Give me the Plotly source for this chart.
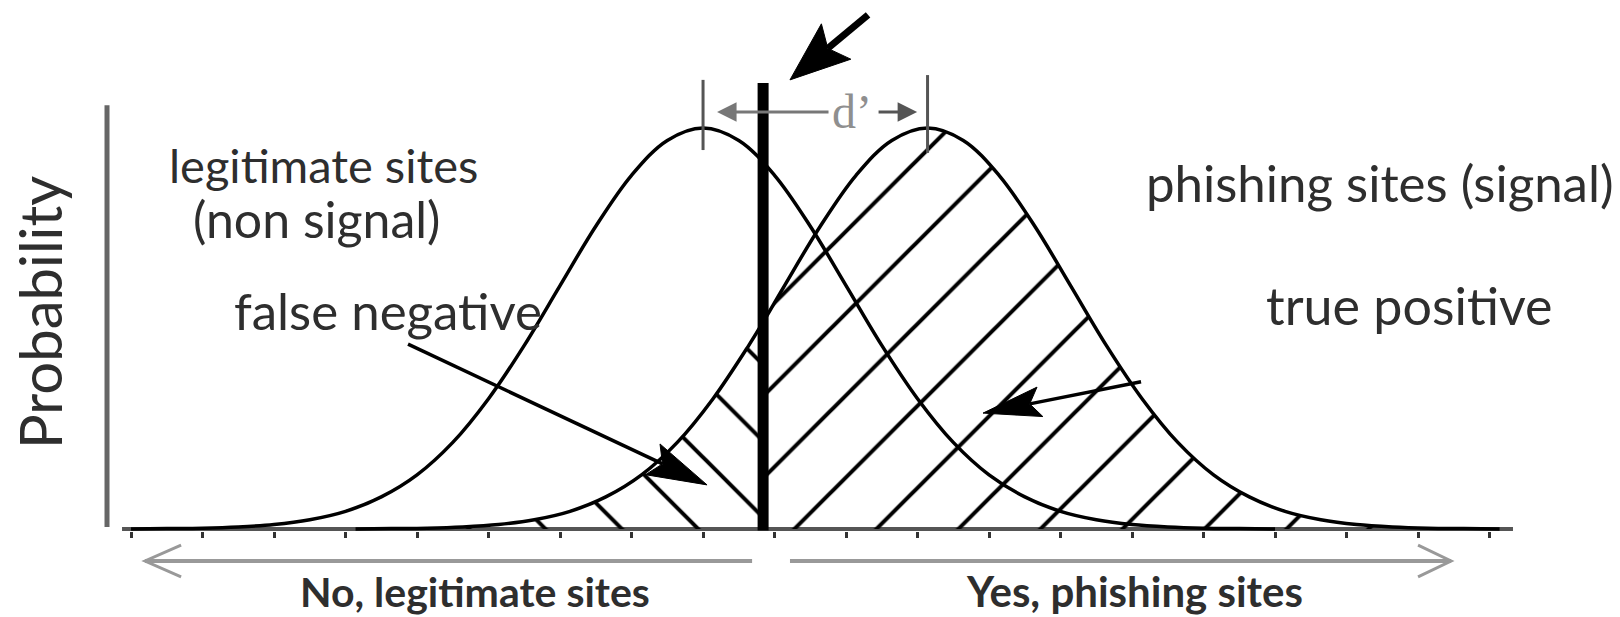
import math
import plotly.graph_objects as go

# ---------------- data ----------------
# relative probability (peak = 1) of the two distributions along the decision axis
noise_x = [-4.0, -3.75, -3.5, -3.25, -3.0, -2.75, -2.5, -2.25, -2.0, -1.75, -1.5, -1.25,
           -1.0, -0.75, -0.5, -0.25, 0.0, 0.25, 0.5, 0.75, 1.0, 1.25, 1.5, 1.75,
           2.0, 2.25, 2.5, 2.75, 3.0, 3.25, 3.5, 3.75, 4.0]
noise_y = [0.000, 0.001, 0.002, 0.005, 0.011, 0.023, 0.044, 0.080, 0.135, 0.216, 0.325, 0.458,
           0.607, 0.755, 0.882, 0.969, 1.000, 0.969, 0.882, 0.755, 0.607, 0.458, 0.325, 0.216,
           0.135, 0.080, 0.044, 0.023, 0.011, 0.005, 0.002, 0.001, 0.000]

signal_x = [-2.43, -2.18, -1.93, -1.68, -1.43, -1.18, -0.93, -0.68, -0.43, -0.18, 0.07, 0.32,
            0.42, 0.57, 0.82, 1.07, 1.32, 1.57, 1.82, 2.07, 2.32, 2.57, 2.82, 3.07,
            3.32, 3.57, 3.82, 4.07, 4.32, 4.57, 4.82, 5.07, 5.32, 5.57]
signal_y = [0.000, 0.001, 0.002, 0.005, 0.011, 0.023, 0.044, 0.080, 0.135, 0.216, 0.325, 0.458,
            0.516, 0.607, 0.755, 0.882, 0.969, 1.000, 0.969, 0.882, 0.755, 0.607, 0.458, 0.325,
            0.216, 0.135, 0.080, 0.044, 0.023, 0.011, 0.005, 0.002, 0.001, 0.000]

noise_mean = 0.0
signal_mean = 1.57
criterion = 0.42

labels = {
    "noise1": "legitimate sites",
    "noise2": "(non signal)",
    "signal": "phishing sites (signal)",
    "fn": "false negative",
    "tp": "true positive",
    "no": "No, legitimate sites",
    "yes": "Yes, phishing sites",
    "ylab": "Probability",
    "dprime": "d\u2019",
}

# ---------------- layout constants ----------------
W, H = 1620, 617
ML, MR, MT, MB = 93, 100, 0, 86
XR = [-4.266, 5.713]
YR = [-0.005, 1.3192]
PX_X = (W - ML - MR) / (XR[1] - XR[0])
PX_Y = (H - MT - MB) / (YR[1] - YR[0])

TEXT = "#2e2e2e"
FONT = "Lato"

fig = go.Figure()

# hatch regions under the signal curve
left_x = [x for x in signal_x if x <= criterion]
left_y = [y for x, y in zip(signal_x, signal_y) if x <= criterion]
right_x = [x for x in signal_x if x >= criterion]
right_y = [y for x, y in zip(signal_x, signal_y) if x >= criterion]

fig.add_trace(go.Scatter(
    x=left_x, y=left_y, mode="lines", line=dict(width=0, shape="spline"),
    fill="tozeroy", fillcolor="rgba(0,0,0,0)",
    fillpattern=dict(shape="\\", size=54, solidity=0.074, fgcolor="black", fgopacity=1),
    hoverinfo="skip", showlegend=False))
fig.add_trace(go.Scatter(
    x=right_x, y=right_y, mode="lines", line=dict(width=0, shape="spline"),
    fill="tozeroy", fillcolor="rgba(0,0,0,0)",
    fillpattern=dict(shape="/", size=58, solidity=0.069, fgcolor="black", fgopacity=1),
    hoverinfo="skip", showlegend=False))

# the two distributions
fig.add_trace(go.Scatter(x=noise_x, y=noise_y, mode="lines",
                         line=dict(color="black", width=3.5, shape="spline"),
                         hoverinfo="skip", showlegend=False))
fig.add_trace(go.Scatter(x=signal_x, y=signal_y, mode="lines",
                         line=dict(color="black", width=3.5, shape="spline"),
                         hoverinfo="skip", showlegend=False))

shapes = []
# baseline and vertical axis
shapes.append(dict(type="line", xref="x", yref="y", x0=-4.063, x1=5.664, y0=0, y1=0,
                   line=dict(color="#555555", width=4), layer="below"))
shapes.append(dict(type="line", xref="x", yref="y", x0=-4.168, x1=-4.168, y0=0.005, y1=1.057,
                   line=dict(color="#666666", width=5)))
# criterion
shapes.append(dict(type="line", xref="x", yref="y", x0=criterion, x1=criterion, y0=-0.004, y1=1.112,
                   line=dict(color="black", width=11)))
# peak markers for d'
shapes.append(dict(type="line", xref="x", yref="y", x0=noise_mean, x1=noise_mean, y0=0.945, y1=1.12,
                   line=dict(color="#555555", width=3)))
shapes.append(dict(type="line", xref="x", yref="y", x0=signal_mean, x1=signal_mean, y0=0.938, y1=1.132,
                   line=dict(color="#555555", width=3)))


def arrow(tip, tail, head_len, half_w, width, color="black"):
    tx, ty = tip[0] * PX_X, tip[1] * PX_Y
    sx, sy = tail[0] * PX_X, tail[1] * PX_Y
    dx, dy = sx - tx, sy - ty
    L = math.hypot(dx, dy)
    ux, uy = dx / L, dy / L
    nx, ny = -uy, ux
    bx, by = tx + ux * head_len, ty + uy * head_len
    cx, cy = tx + ux * head_len * 0.82, ty + uy * head_len * 0.82
    p1 = (bx + nx * half_w, by + ny * half_w)
    p2 = (bx - nx * half_w, by - ny * half_w)

    def d(p):
        return f"{p[0] / PX_X:.4f},{p[1] / PX_Y:.4f}"
    path = f"M {d((tx, ty))} L {d(p1)} L {d((cx, cy))} L {d(p2)} Z"
    out = [dict(type="line", xref="x", yref="y", x0=tail[0], y0=tail[1],
                x1=cx / PX_X, y1=cy / PX_Y, line=dict(color=color, width=width)),
           dict(type="path", xref="x", yref="y", path=path, fillcolor=color,
                line=dict(color=color, width=1))]
    return out


shapes += arrow((0.608, 1.12), (1.154, 1.282), 60, 23, 7)
shapes += arrow((0.028, 0.110), (-2.063, 0.461), 60, 17, 3.5)
shapes += arrow((1.958, 0.289), (3.063, 0.367), 58, 15, 3.5)

# bottom direction arrows (open chevrons)
GREY = "#999999"
yb = -0.0565
shapes.append(dict(type="line", xref="x", yref="paper", x0=-3.902, x1=0.343, y0=yb, y1=yb,
                   line=dict(color=GREY, width=4)))
shapes.append(dict(type="path", xref="x", yref="paper",
                   path=f"M -3.650,{yb + 0.030} L -3.902,{yb} L -3.650,{yb - 0.030}",
                   line=dict(color=GREY, width=3)))
shapes.append(dict(type="line", xref="x", yref="paper", x0=0.608, x1=5.231, y0=yb, y1=yb,
                   line=dict(color=GREY, width=4)))
shapes.append(dict(type="path", xref="x", yref="paper",
                   path=f"M 5.000,{yb + 0.030} L 5.231,{yb} L 5.000,{yb - 0.030}",
                   line=dict(color=GREY, width=3)))

annotations = []


def txt(key, x, y, size=46, xref="x", yref="y", color=TEXT, weight=None, angle=0, family=FONT):
    f = dict(family=family, size=size, color=color)
    if weight:
        f["weight"] = weight
    annotations.append(dict(text=labels[key], x=x, y=y, xref=xref, yref=yref, showarrow=False,
                            xanchor="center", yanchor="middle", font=f, textangle=angle))


txt("noise1", -2.657, 0.908, size=47)
txt("noise2", -2.70, 0.772, size=50)
txt("fn", -2.203, 0.546, size=51)
txt("signal", 4.734, 0.865, size=51)
txt("tp", 4.937, 0.559, size=52)
txt("no", -1.594, -0.113, size=41, yref="paper", weight=700)
txt("yes", 3.02, -0.113, size=42, yref="paper", weight=700)
txt("ylab", -0.0371, 0.539, size=58, xref="paper", angle=-90)
txt("dprime", 1.042, 1.04, size=48, color="#8f8f8f", family="Liberation Serif")

# d' double arrow
annotations.append(dict(x=0.098, y=1.04, ax=0.888, ay=1.04, axref="x", ayref="y", xref="x", yref="y",
                        text="", showarrow=True, arrowhead=2, arrowsize=1.3, arrowwidth=3,
                        arrowcolor="#777777"))
annotations.append(dict(x=1.497, y=1.04, ax=1.217, ay=1.04, axref="x", ayref="y", xref="x", yref="y",
                        text="", showarrow=True, arrowhead=2, arrowsize=1.3, arrowwidth=3,
                        arrowcolor="#555555"))

fig.update_layout(
    width=W, height=H,
    margin=dict(l=ML, r=MR, t=MT, b=MB),
    paper_bgcolor="white", plot_bgcolor="white",
    xaxis=dict(range=XR, showgrid=False, zeroline=False, showline=False, ticks="outside",
               tick0=-4, dtick=0.5, ticklen=6, tickwidth=3, tickcolor="#333333",
               showticklabels=False, fixedrange=True),
    yaxis=dict(range=YR, visible=False, fixedrange=True),
    shapes=shapes,
    annotations=annotations,
    showlegend=False,
)

fig.write_html("out.html", config={"displayModeBar": False},
               post_script="document.body.style.margin='0px';document.body.style.overflow='hidden';")
